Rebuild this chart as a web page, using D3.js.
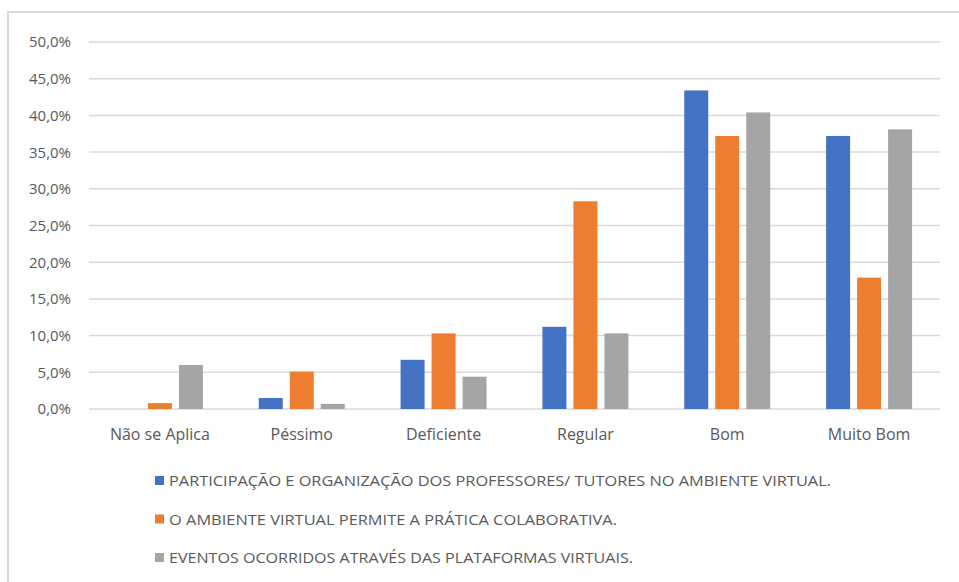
<!DOCTYPE html>
<html>
<head>
<meta charset="utf-8">
<script src="https://cdn.jsdelivr.net/npm/d3@7"></script>
<style>
  body { margin: 0; background: #ffffff; }
  svg { display: block; }
</style>
</head>
<body>
<script>
var categories = ["Não se Aplica", "Péssimo", "Deficiente", "Regular", "Bom", "Muito Bom"];
var seriesNames = [
  "PARTICIPAÇÃO E ORGANIZAÇÃO DOS PROFESSORES/ TUTORES NO AMBIENTE VIRTUAL.",
  "O AMBIENTE VIRTUAL PERMITE A PRÁTICA COLABORATIVA.",
  "EVENTOS OCORRIDOS ATRAVÉS DAS PLATAFORMAS VIRTUAIS."
];
var participacao = [0.0, 1.5, 6.7, 11.2, 43.4, 37.2];
var ambiente = [0.8, 5.1, 10.3, 28.3, 37.2, 17.9];
var eventos = [6.0, 0.7, 4.4, 10.3, 40.4, 38.1];
var yTicks = [0, 5, 10, 15, 20, 25, 30, 35, 40, 45, 50];
var colours = ["#4472c4", "#ed7d31", "#a5a5a5"];
var legendWidths = [662, 448, 464];

var width = 959, height = 582;
var series = [participacao, ambiente, eventos];

var svg = d3.select("body").append("svg")
  .attr("width", width)
  .attr("height", height);

// chart area border
svg.append("rect")
  .attr("x", 8).attr("y", 12)
  .attr("width", 1000).attr("height", 620)
  .attr("fill", "#ffffff")
  .attr("stroke", "#d9d9d9")
  .attr("stroke-width", 2);

var x0 = d3.scaleBand()
  .domain(categories)
  .range([89, 940])
  .paddingInner(0)
  .paddingOuter(0);

var y = d3.scaleLinear()
  .domain([0, 50])
  .range([409, 42]);

// gridlines
svg.append("g")
  .selectAll("line")
  .data(yTicks)
  .enter().append("line")
    .attr("x1", 89)
    .attr("x2", 940)
    .attr("y1", function(d) { return y(d); })
    .attr("y2", function(d) { return y(d); })
    .attr("stroke", "#d9d9d9")
    .attr("stroke-width", 1.5);

// y labels
svg.append("g")
  .selectAll("text")
  .data(yTicks)
  .enter().append("text")
    .attr("x", 71)
    .attr("y", function(d) { return y(d); })
    .attr("dy", "0.36em")
    .attr("text-anchor", "end")
    .attr("fill", "#595959")
    .style("font-family", "'Open Sans', sans-serif")
    .style("font-size", "15px")
    .text(function(d) { return d.toFixed(1).replace(".", ",") + "%"; });

// bars
var barW = 24, barGap = 7;
var x1 = d3.scaleBand()
  .domain([0, 1, 2])
  .range([0, barW * 3 + barGap * 2])
  .paddingInner(barGap / (barW + barGap));

var groupW = barW * 3 + barGap * 2;

series.forEach(function(vals, s) {
  svg.append("g")
    .selectAll("rect")
    .data(vals)
    .enter().append("rect")
      .attr("x", function(d, i) { return x0(categories[i]) + (x0.bandwidth() - groupW) / 2 + x1(s); })
      .attr("y", function(d) { return y(d); })
      .attr("width", x1.bandwidth())
      .attr("height", function(d) { return y(0) - y(d); })
      .attr("fill", colours[s]);
});

// x labels
svg.append("g")
  .selectAll("text")
  .data(categories)
  .enter().append("text")
    .attr("x", function(d) { return x0(d) + x0.bandwidth() / 2; })
    .attr("y", 440)
    .attr("text-anchor", "middle")
    .attr("fill", "#595959")
    .style("font-family", "'Open Sans', sans-serif")
    .style("font-size", "16px")
    .text(function(d) { return d; });

// legend
var legend = svg.append("g")
  .selectAll("g")
  .data(seriesNames)
  .enter().append("g")
    .attr("transform", function(d, i) { return "translate(155," + (481 + i * 38.5) + ")"; });

legend.append("rect")
  .attr("x", 0).attr("y", -5)
  .attr("width", 9).attr("height", 9)
  .attr("fill", function(d, i) { return colours[i]; });

legend.append("text")
  .attr("x", 14)
  .attr("y", 0)
  .attr("dy", "0.36em")
  .attr("fill", "#595959")
  .attr("textLength", function(d, i) { return legendWidths[i]; })
  .attr("lengthAdjust", "spacingAndGlyphs")
  .style("font-family", "'Open Sans', sans-serif")
  .style("font-size", "15px")
  .text(function(d) { return d; });
</script>
</body>
</html>
